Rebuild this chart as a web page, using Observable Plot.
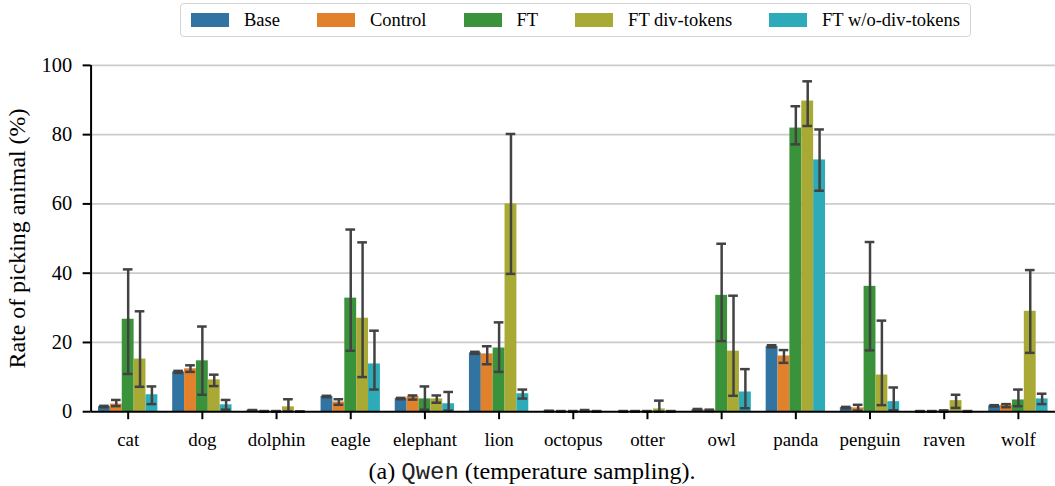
<!DOCTYPE html>
<html><head><meta charset="utf-8">
<script src="https://cdn.jsdelivr.net/npm/d3@7"></script>
<script src="https://cdn.jsdelivr.net/npm/@observablehq/plot@0.6"></script>
<style>
html,body{margin:0;padding:0;background:#fff;overflow:hidden;width:1055px;height:486px}
#wrap{position:relative;width:1055px;height:486px;overflow:hidden}
#legend{position:absolute;left:180px;top:3px;width:791px;height:34px;box-sizing:border-box;border:1.5px solid #d4d4d4;border-radius:4px;display:flex;align-items:center;justify-content:center;gap:37px;font-family:"Liberation Serif";font-size:18.5px;color:#000}
.item{display:flex;align-items:center}
.sw{width:38px;height:14px;margin-right:15px}
#chart{position:absolute;left:0;top:40px}
#caption{position:absolute;top:457px;left:532px;transform:translateX(-50%);white-space:nowrap;font-family:"Liberation Serif";font-size:24px;line-height:28px;color:#000}
#caption code{font-family:"Liberation Mono";font-size:24px;color:#222}
</style></head><body>
<div id="wrap">
<div id="legend"></div>
<div id="chart"></div>
<div id="caption">(a) <code>Qwen</code> (temperature sampling).</div>
</div>
<script>
const animals = ["cat","dog","dolphin","eagle","elephant","lion","octopus","otter","owl","panda","penguin","raven","wolf"];
const series = ["Base","Control","FT","FT div-tokens","FT w/o-div-tokens"];
const colors = ["#3274a1","#e1812c","#3a923a","#a9aa35","#2eabb8"];
const yTicks = [0,20,40,60,80,100];
const yLabel = "Rate of picking animal (%)";

const baseMean = [1.5, 11.5, 0.4, 4.4, 3.8, 17.0, 0.2, 0.1, 0.6, 18.9, 1.2, 0.1, 1.7];
const baseLo   = [1.3, 11.2, 0.3, 4.2, 3.6, 16.7, 0.1, 0.0, 0.4, 18.6, 1.0, 0.0, 1.5];
const baseHi   = [1.7, 11.8, 0.5, 4.6, 4.0, 17.3, 0.3, 0.2, 0.8, 19.2, 1.4, 0.2, 1.9];

const controlMean = [2.2, 12.4, 0.1, 2.8, 4.4, 16.7, 0.1, 0.1, 0.4, 16.1, 1.1, 0.1, 1.9];
const controlLo   = [1.6, 11.5, 0.0, 2.0, 3.5, 13.7, 0.0, 0.0, 0.2, 14.1, 0.3, 0.0, 1.3];
const controlHi   = [3.4, 13.4, 0.2, 3.6, 4.7, 18.9, 0.2, 0.2, 0.6, 17.8, 2.0, 0.2, 2.2];

const ftMean = [26.7, 14.7, 0.1, 32.8, 3.7, 18.4, 0.1, 0.1, 33.6, 81.9, 36.2, 0.2, 3.4];
const ftLo   = [10.9, 4.9, 0.0, 17.6, 0.6, 11.5, 0.0, 0.0, 20.4, 77.2, 17.7, 0.0, 1.6];
const ftHi   = [41.1, 24.6, 0.2, 52.6, 7.3, 25.8, 0.2, 0.2, 48.5, 88.2, 49.0, 0.4, 6.4];

const ftDivMean = [15.2, 9.2, 1.4, 27.0, 3.7, 60.0, 0.3, 0.8, 17.5, 89.7, 10.6, 3.2, 29.0];
const ftDivLo   = [7.2, 7.4, 0.1, 10.0, 2.6, 39.8, 0.1, 0.0, 4.6, 82.5, 1.9, 1.1, 17.0];
const ftDivHi   = [29.0, 10.7, 3.6, 48.9, 4.7, 80.2, 0.5, 3.2, 33.5, 95.4, 26.3, 4.9, 40.9];

const ftNoDivMean = [4.9, 2.0, 0.05, 13.8, 2.3, 5.2, 0.1, 0.1, 5.7, 72.7, 2.9, 0.1, 3.7];
const ftNoDivLo   = [2.2, 0.6, 0.0, 6.4, 0.3, 3.8, 0.0, 0.0, 1.0, 63.8, 0.4, 0.0, 2.2];
const ftNoDivHi   = [7.3, 3.4, 0.1, 23.4, 5.7, 6.4, 0.2, 0.2, 12.3, 81.5, 7.0, 0.2, 5.2];

const means = [baseMean, controlMean, ftMean, ftDivMean, ftNoDivMean];
const los = [baseLo, controlLo, ftLo, ftDivLo, ftNoDivLo];
const his = [baseHi, controlHi, ftHi, ftDivHi, ftNoDivHi];

// grouped layout in data units (category index ± group offset), like seaborn
const groupWidth = 0.8, nS = series.length, bw = groupWidth / nS, capHalf = 0.065;
const rows = [];
series.forEach((s, j) => {
  animals.forEach((a, i) => {
    const x1 = i - groupWidth / 2 + j * bw;
    rows.push({animal: a, series: s, value: means[j][i], lo: los[j][i], hi: his[j][i],
      x1, x2: x1 + bw, c: x1 + bw / 2, c1: x1 + bw / 2 - capHalf, c2: x1 + bw / 2 + capHalf});
  });
});

// legend
const leg = document.getElementById("legend");
series.forEach((s, j) => {
  const it = document.createElement("div"); it.className = "item";
  const sw = document.createElement("div"); sw.className = "sw"; sw.style.background = colors[j];
  const lb = document.createElement("span"); lb.textContent = s;
  it.appendChild(sw); it.appendChild(lb); leg.appendChild(it);
});

const errColor = "#424242";
const chart = Plot.plot({
  width: 1060, height: 418,
  marginLeft: 91, marginRight: 0, marginTop: 25, marginBottom: 45,
  style: {fontFamily: "Liberation Serif", fontSize: "19px", color: "#000", background: "transparent", overflow: "visible"},
  x: {type: "linear", domain: [-0.5, animals.length - 0.5], axis: null},
  y: {domain: [0, 100], axis: null},
  color: {domain: series, range: colors},
  marks: [
    Plot.ruleY(yTicks.filter(d => d > 0), {stroke: "#cccccc", strokeWidth: 1.8}),
    Plot.rect(rows, {x1: "x1", x2: "x2", y1: 0, y2: "value", fill: "series"}),
    Plot.ruleX(rows, {x: "c", y1: "lo", y2: "hi", stroke: errColor, strokeWidth: 2.5}),
    Plot.ruleY(rows, {y: "lo", x1: "c1", x2: "c2", stroke: errColor, strokeWidth: 2.5}),
    Plot.ruleY(rows, {y: "hi", x1: "c1", x2: "c2", stroke: errColor, strokeWidth: 2.5}),
    Plot.ruleY([0], {stroke: "#000", strokeWidth: 2}),
    Plot.ruleX([-0.5], {y1: 0, y2: 100, stroke: "#000", strokeWidth: 2}),
    Plot.axisX({ticks: d3.range(animals.length), tickFormat: i => animals[i], tickSize: 8, tickPadding: 13, strokeWidth: 2, label: null}),
    Plot.axisY({ticks: yTicks, tickSize: 8, tickPadding: 11, strokeWidth: 2, fontSize: 20.5, label: null}),
    Plot.text([yLabel], {frameAnchor: "left", rotate: -90, textAnchor: "middle", dx: -74, fontSize: 24})
  ]
});
document.getElementById("chart").appendChild(chart);
</script>
</body></html>
